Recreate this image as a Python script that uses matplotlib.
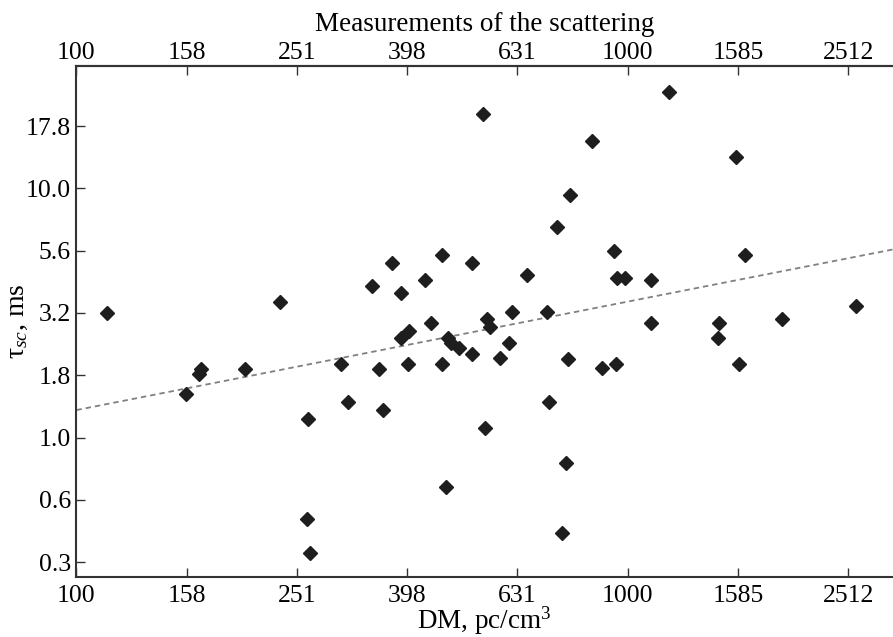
import numpy as np
import matplotlib
matplotlib.use('Agg')
import matplotlib.pyplot as plt

plt.rcParams['font.family'] = ['Liberation Serif', 'DejaVu Serif']
plt.rcParams['mathtext.fontset'] = 'custom'
plt.rcParams['mathtext.rm'] = 'Liberation Serif'
plt.rcParams['mathtext.it'] = 'Liberation Serif:italic'

# DM (pc/cm^3) and scattering time tau_sc (ms)
dm = [113.8, 234.4, 158.0, 167.1, 168.5, 202.6, 263.1, 262.0, 265.5, 302.0,
      311.3, 343.3, 354.2, 360.2, 373.4, 387.4, 388.7, 400.9, 399.6, 428.5,
      439.7, 459.8, 461.0, 468.6, 472.5, 478.5, 494.7, 521.0, 522.1, 546.4,
      550.5, 554.7, 561.4, 586.9, 609.5, 616.0, 656.9, 714.1, 719.8, 743.6,
      759.9, 773.7, 778.3, 786.8, 860.6, 898.8, 943.4, 950.7, 956.3, 988.8,
      1103.0, 1103.5, 1187.0, 1456.6, 1466.0, 1572.0, 1590.0, 1629.0, 1906.0, 2593.0]
tau = [3.17, 3.50, 1.49, 1.80, 1.89, 1.89, 1.19, 0.470, 0.344, 1.98,
       1.39, 4.07, 1.89, 1.29, 5.00, 3.79, 2.50, 2.68, 1.98, 4.30,
       2.88, 5.41, 1.98, 0.635, 2.50, 2.39, 2.28, 2.17, 5.00, 19.96,
       1.09, 3.00, 2.78, 2.09, 2.39, 3.18, 4.49, 3.18, 1.39, 6.98,
       0.415, 0.793, 2.07, 9.38, 15.55, 1.91, 5.62, 1.97, 4.38, 4.38,
       4.30, 2.88, 24.28, 2.50, 2.88, 13.39, 1.98, 5.40, 2.99, 3.38]

# power-law fit tau = a * (DM/100)^b
fit_a = 1.29
fit_b = 0.435

x_ticks = [100, 158, 251, 398, 631, 1000, 1585, 2512]
y_ticks = [0.3, 0.6, 1.0, 1.8, 3.2, 5.6, 10.0, 17.8]

fig = plt.figure(figsize=(8.93, 6.37), dpi=100)
ax = fig.add_axes([0.0856, 0.0942, 0.9144, 0.8022])

x_lo, x_hi = 100, 3028
fit_x = np.array([x_lo, x_hi])
ax.plot(fit_x, fit_a * (fit_x / 100.0) ** fit_b, color='#808080', lw=1.3,
        dashes=(3, 2.2), zorder=2)
ax.plot(dm, tau, 'D', color='#1e1e1e', ms=7.3, mec='#1e1e1e', zorder=3)

ax.set_xscale('log')
ax.set_yscale('log')
ax.set_xlim(x_lo, x_hi)
ax.set_ylim(0.276, 30.96)

# tick positions are the exact log steps, labels as printed
xt = [10 ** (2 + 0.2 * k) for k in range(len(x_ticks))]
xl = [str(v) for v in x_ticks]
ax.set_xticks(xt)
ax.set_xticklabels(xl)
ax.set_yticks([10 ** (-0.5 + 0.25 * k) for k in range(len(y_ticks))])
ax.set_yticklabels(['%.1f' % v for v in y_ticks])
ax.minorticks_off()

ax.tick_params(axis='both', which='major', direction='in', length=6.5, width=1,
               color='#333333', labelsize=18.5, pad=4)
ax.tick_params(axis='x', which='major', pad=5.5)

# top scale, same ticks, labels sitting closer to the frame
top = ax.secondary_xaxis('top')
top.set_xticks(xt)
top.set_xticklabels(xl)
top.minorticks_off()
top.tick_params(axis='x', which='major', direction='in', length=6.5, width=1,
                color='#333333', labelsize=18.5, pad=1.5)
top.spines['top'].set_linewidth(1.5)
top.spines['top'].set_color('#333333')

for side in ['left', 'bottom', 'top']:
    ax.spines[side].set_linewidth(1.5)
    ax.spines[side].set_color('#333333')
ax.spines['right'].set_visible(False)

ax.set_xlabel('DM, pc/cm$^3$', fontsize=19.5, labelpad=-1.5)
ax.set_ylabel('τ$_{sc}$, ms', fontsize=20, labelpad=-3)
ax.set_title('Measurements of the scattering', fontsize=19.5, pad=8)

fig.savefig('out.png', dpi=100)
